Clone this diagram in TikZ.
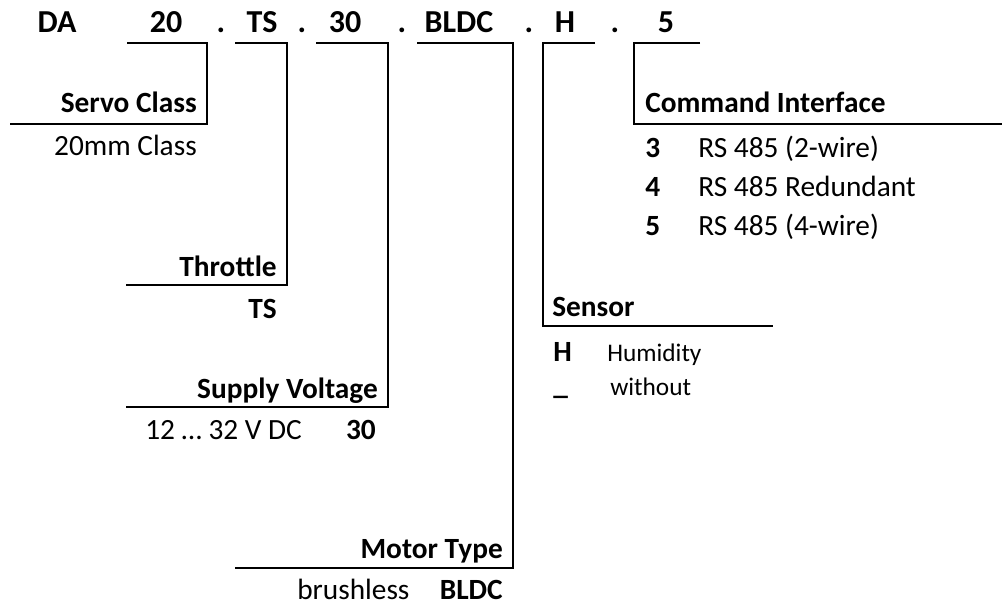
\documentclass[tikz,border=0pt]{standalone}
\usepackage{fontspec}
\setmainfont{Carlito}
\tikzset{
    field/.style={
        font=\bfseries\fontsize{24}{28}\selectfont,
        inner sep=0pt,
        anchor=base
    },
    heading/.style={
        font=\bfseries\fontsize{22}{26}\selectfont,
        inner sep=0pt
    },
    entry/.style={
        font=\fontsize{22}{26}\selectfont,
        inner sep=0pt
    },
    small entry/.style={
        font=\fontsize{19}{23}\selectfont,
        inner sep=0pt
    },
    bracket/.style={
        line width=1.5pt,
        black
    }
}

\begin{document}
\begin{tikzpicture}[x=0.75pt,y=-0.75pt]
    \useasboundingbox (0,0) rectangle (1002,606);
    % type code
    \node[field] (fDA)   at (57,33)  {DA};
    \node[field] (f20)   at (166,33) {20};
    \node[field] (dot1)  at (221,33) {.};
    \node[field] (fTS)   at (262,33) {TS};
    \node[field] (dot2)  at (302,33) {.};
    \node[field] (f30)   at (345,33) {30};
    \node[field] (dot3)  at (402,33) {.};
    \node[field] (fBLDC) at (459,33) {BLDC};
    \node[field] (dot4)  at (529,33) {.};
    \node[field] (fH)    at (565,33) {H};
    \node[field] (dot5)  at (615,33) {.};
    \node[field] (f5)    at (666,33) {5};
    % bracket ends
    \coordinate (a20) at (127,43);   \coordinate (b20) at (207,124);   \coordinate (c20) at (10,124);
    \coordinate (aTS) at (235,43);   \coordinate (bTS) at (287,285);   \coordinate (cTS) at (126,285);
    \coordinate (a30) at (316,43);   \coordinate (b30) at (388,407);   \coordinate (c30) at (126,407);
    \coordinate (aBLDC) at (417,43); \coordinate (bBLDC) at (513,568); \coordinate (cBLDC) at (235,568);
    \coordinate (aH) at (595,43);    \coordinate (bH) at (543,326);    \coordinate (cH) at (773,326);
    \coordinate (a5) at (700,43);    \coordinate (b5) at (634,124);    \coordinate (c5) at (1002,124);
    \foreach \f in {20,TS,30,BLDC,H,5}
        \draw[bracket] (a\f) -| (b\f) -- (c\f);
    % servo class
    \node[heading, anchor=base east] (tServo) at (197,113) {Servo Class};
    \node[entry, anchor=base east] (vServo) at (197,156) {20mm Class};
    % throttle
    \node[heading, anchor=base east] (tThrottle) at (277,276) {Throttle};
    \node[heading, anchor=base east] (vThrottle) at (277,318) {TS};
    % supply voltage
    \node[heading, anchor=base east] (tSupply) at (378,398) {Supply Voltage};
    \node[entry, anchor=base west] (dSupply) at (145,439) {12 … 32 V DC};
    \node[heading, anchor=base east] (vSupply) at (376,439) {30};
    % motor type
    \node[heading, anchor=base east] (tMotor) at (503,558) {Motor Type};
    \node[entry, anchor=base west] (dMotor) at (297,599) {brushless};
    \node[heading, anchor=base east] (vMotor) at (503,599) {BLDC};
    % sensor
    \node[heading, anchor=base west] (tSensor) at (552,316) {Sensor};
    \node[heading, anchor=base west] (kH) at (553,361) {H};
    \node[small entry, anchor=base west] (dH) at (607,361) {Humidity};
    \node[heading, anchor=base west] (kNone) at (553,394) {\_};
    \node[small entry, anchor=base west] (dNone) at (610,395) {without};
    % command interface
    \node[heading, anchor=base west] (tCmd) at (645,113) {Command Interface};
    \foreach \k/\t [count=\i] in {3/RS 485 (2-wire),4/RS 485 Redundant,5/RS 485 (4-wire)} {
        \node[heading, anchor=base west] (k\k) at (645,118+39*\i) {\k};
        \node[entry, anchor=base west] (d\k) at (698,118+39*\i) {\t};
    }
\end{tikzpicture}
\end{document}
